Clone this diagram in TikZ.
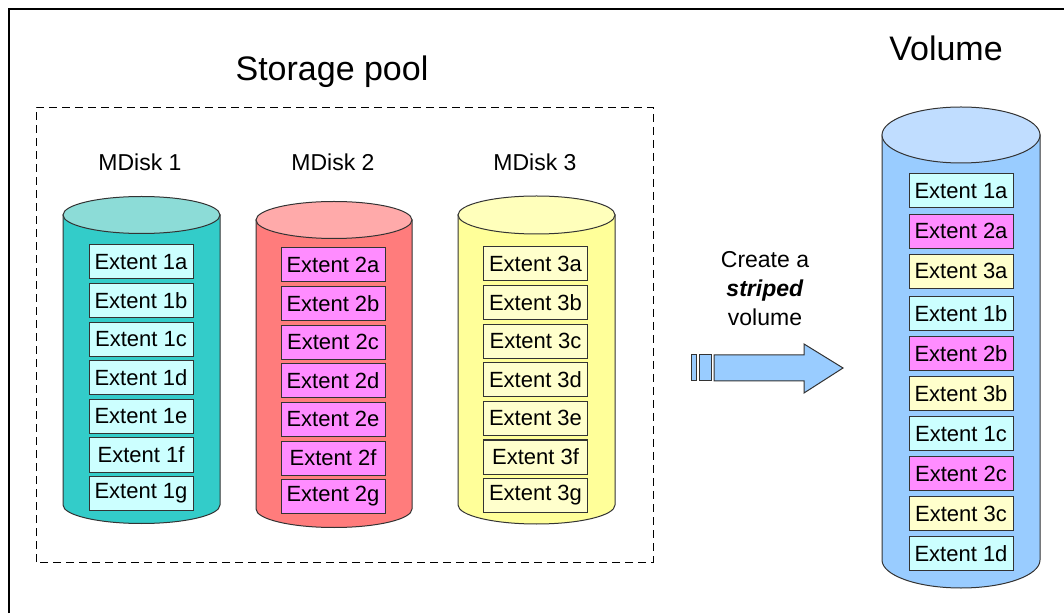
\documentclass[tikz,border=0pt]{standalone}
\usepackage{fontspec}
\setmainfont{Liberation Sans}
\usetikzlibrary{positioning}
\definecolor{edge}{HTML}{333333}
\definecolor{tealbody}{HTML}{33CCC9}
\definecolor{teallid}{HTML}{8CDCD7}
\definecolor{tealbox}{HTML}{CCFFFF}
\definecolor{redbody}{HTML}{FF7C7C}
\definecolor{redlid}{HTML}{FFAAAA}
\definecolor{pinkbox}{HTML}{FF8CFF}
\definecolor{yelbody}{HTML}{FFFF99}
\definecolor{yellid}{HTML}{FFFFBB}
\definecolor{yelbox}{HTML}{FFFFCC}
\definecolor{bluebody}{HTML}{99CCFF}
\definecolor{bluelid}{HTML}{C0DDFF}
\tikzstyle{extent} = [rectangle, minimum width=104pt, minimum height=34pt, inner sep=0pt, draw=edge, line width=1pt, font=\fontsize{22}{25}\selectfont]
\tikzstyle{ext1} = [extent, fill=tealbox]
\tikzstyle{ext2} = [extent, fill=pinkbox]
\tikzstyle{ext3} = [extent, fill=yelbox]
\tikzstyle{cyl} = [draw=edge, line width=1pt]
\tikzstyle{disklabel} = [font=\fontsize{23}{27}\selectfont]
\tikzstyle{title} = [font=\fontsize{34}{40}\selectfont]

\begin{document}
\begin{tikzpicture}[x=1pt, y=1pt, node distance=38.6pt]

  \useasboundingbox (0,0) rectangle (1064,613);
  \draw [line width=1.2pt] (9,0) -- (9,604) -- (1064,604);

  % titles and the pool box
  \node (pool) [title] at (332,541) {Storage pool};
  \node (volume) [title] at (946,565) {Volume};
  \draw [dashed, dash pattern=on 8pt off 5pt, line width=0.9pt] (36,51) rectangle (653,506);

  \node (mdisk1) [disklabel] at (140,451) {MDisk 1};
  \node (mdisk2) [disklabel, right of=mdisk1, node distance=193pt] {MDisk 2};
  \node (mdisk3) [disklabel, right of=mdisk2, node distance=202pt] {MDisk 3};

  % the cylinders
  \filldraw [cyl, fill=tealbody] (63,398) -- (63,108) arc[start angle=180, end angle=360, x radius=78.5pt, y radius=18.5pt] -- (220,398) -- cycle;
  \filldraw [cyl, fill=teallid] (141.5,398) ellipse [x radius=78.5pt, y radius=18.5pt];
  \filldraw [cyl, fill=redbody] (256,393) -- (256,104) arc[start angle=180, end angle=360, x radius=78pt, y radius=18.5pt] -- (412,393) -- cycle;
  \filldraw [cyl, fill=redlid] (334,393) ellipse [x radius=78pt, y radius=18.5pt];
  \filldraw [cyl, fill=yelbody] (458,398) -- (458,108) arc[start angle=180, end angle=360, x radius=78.5pt, y radius=19pt] -- (615,398) -- cycle;
  \filldraw [cyl, fill=yellid] (536.5,398) ellipse [x radius=78.5pt, y radius=19pt];
  \filldraw [cyl, fill=bluebody] (882,478) -- (882,53) arc[start angle=180, end angle=360, x radius=79pt, y radius=28pt] -- (1040,478) -- cycle;
  \filldraw [cyl, fill=bluelid] (961,478) ellipse [x radius=79pt, y radius=28pt];

  % extents of MDisk 1
  \node (e1a) [ext1] at (141,351) {Extent 1a};
  \node (e1b) [ext1, below of=e1a] {Extent 1b};
  \node (e1c) [ext1, below of=e1b] {Extent 1c};
  \node (e1d) [ext1, below of=e1c] {Extent 1d};
  \node (e1e) [ext1, below of=e1d] {Extent 1e};
  \node (e1f) [ext1, below of=e1e] {Extent 1f};
  \node (e1g) [ext1, below of=e1f] {Extent 1g};

  % extents of MDisk 2
  \node (e2a) [ext2] at (333,348) {Extent 2a};
  \node (e2b) [ext2, below of=e2a] {Extent 2b};
  \node (e2c) [ext2, below of=e2b] {Extent 2c};
  \node (e2d) [ext2, below of=e2c] {Extent 2d};
  \node (e2e) [ext2, below of=e2d] {Extent 2e};
  \node (e2f) [ext2, below of=e2e] {Extent 2f};
  \node (e2g) [ext2, below of=e2f] {Extent 2g};

  % extents of MDisk 3
  \node (e3a) [ext3] at (535.5,349) {Extent 3a};
  \node (e3b) [ext3, below of=e3a] {Extent 3b};
  \node (e3c) [ext3, below of=e3b] {Extent 3c};
  \node (e3d) [ext3, below of=e3c] {Extent 3d};
  \node (e3e) [ext3, below of=e3d] {Extent 3e};
  \node (e3f) [ext3, below of=e3e] {Extent 3f};
  \node (e3g) [ext3, below of=e3f] {Extent 3g};

  % the striped volume
  \begin{scope}[node distance=40.1pt]
  \node (v1a) [ext1] at (961,422) {Extent 1a};
  \node (v2a) [ext2, below of=v1a] {Extent 2a};
  \node (v3a) [ext3, below of=v2a] {Extent 3a};
  \node (v1b) [ext1, below of=v3a, yshift=-2pt] {Extent 1b};
  \node (v2b) [ext2, below of=v1b] {Extent 2b};
  \node (v3b) [ext3, below of=v2b] {Extent 3b};
  \node (v1c) [ext1, below of=v3b] {Extent 1c};
  \node (v2c) [ext2, below of=v1c] {Extent 2c};
  \node (v3c) [ext3, below of=v2c] {Extent 3c};
  \node (v1d) [ext1, below of=v3c] {Extent 1d};
  \end{scope}

  % the arrow in between
  \node (create) [align=center, font=\fontsize{23}{29}\selectfont] at (765,324) {Create a\\\textbf{\textit{striped}}\\volume};
  \filldraw [cyl, fill=bluebody] (691,232) rectangle (696,258);
  \filldraw [cyl, fill=bluebody] (699,232) rectangle (711,258);
  \filldraw [cyl, fill=bluebody] (714,232) -- (804,232) -- (804,220) -- (843,245) -- (804,269) -- (804,258) -- (714,258) -- cycle;

\end{tikzpicture}
\end{document}
